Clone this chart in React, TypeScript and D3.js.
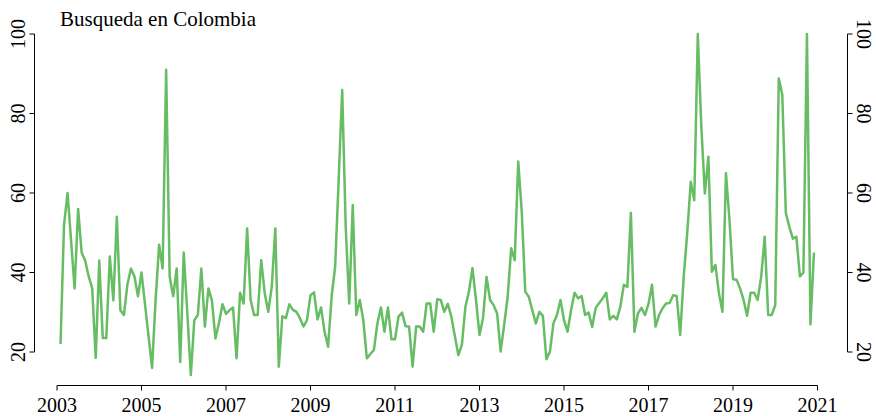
import React from "react";
import * as d3 from "d3";

const title = "Busqueda en Colombia";
const startYear = 2003;
const startMonth = 1; // February 2003 (0-based month)

const v2003_2005 = [
  22, 52, 60, 48, 36, 56, 45, 43, 39, 36, 18.5,
  43, 23.5, 23.5, 44, 33, 54, 30.5, 29.3, 37, 41, 39, 34,
  40, 32, 24, 16, 33, 47, 41, 91, 39, 34, 41, 17.5,
];
const v2006_2008 = [
  45, 30, 14.2, 28, 29.3, 41, 26.4, 36, 33, 23.4, 27.3, 32,
  29.6, 30.5, 31.2, 18.4, 34.9, 32.2, 51.1, 33, 29.3, 29.3, 43.1, 34.8,
  30.1, 36.4, 51.1, 16.3, 29, 28.5, 32, 30.6, 30.1, 28.5, 26.4, 28,
];
const v2009_2011 = [
  34.3, 35, 28.2, 31.2, 25.1, 21.3, 33.9, 41.5, 63.3, 85.9, 51.5, 32.2,
  57, 29.3, 33.1, 28, 18.4, 19.5, 20.5, 27.2, 31.2, 25.1, 31.2, 23.2,
  23.2, 28.9, 29.9, 26.5, 26.4, 16.3, 26.4, 26.4, 25.1, 32.2, 32.2, 25.1,
];
const v2012_2014 = [
  33.3, 33.1, 30.1, 32.1, 28.9, 24, 19.2, 21.8, 31.4, 35.2, 41.1, 33.1,
  24.3, 28.5, 38.9, 33.1, 31.8, 29.7, 20.1, 26.8, 33.9, 46.1, 43.1, 67.9,
  55.3, 35.2, 33.9, 30.5, 27.2, 30.1, 29.1, 18.2, 20.1, 27.2, 29.3, 33.1,
];
const v2015_2017 = [
  28, 25.1, 30.5, 34.9, 33.5, 34.1, 29.3, 29.9, 26.3, 31.1, 32.3, 33.5,
  34.9, 28.2, 29.1, 28.2, 31.4, 36.9, 36.4, 55, 25.1, 29.7, 31.1, 29.3,
  32.1, 36.9, 26.4, 29.3, 31, 32.2, 32.3, 34.3, 34.1, 24.3, 38.9, 49.9,
];
const v2018_2020 = [
  62.8, 58.2, 100, 76.7, 59.9, 69.1, 40.2, 41.9, 34.8, 30.1, 65, 53.2,
  38.3, 38.2, 36, 33.1, 29.1, 34.9, 34.9, 33.1, 38.9, 49, 29.3, 29.3,
  31.8, 88.8, 84.7, 55, 51.5, 48.5, 49, 39, 40, 100, 27, 45,
];

const yTicks = [20, 40, 60, 80, 100];
const xTicks = [2003, 2005, 2007, 2009, 2011, 2013, 2015, 2017, 2019, 2021];

const FONT = "Liberation Serif, Times New Roman, DejaVu Serif, serif";

export default function App() {
  const W = 876;
  const H = 416;
  const x = d3.scaleLinear().domain([2003, 2021]).range([57, 817.5]);
  const y = d3.scaleLinear().domain([20, 100]).range([352, 34]);

  const values = [
    ...v2003_2005,
    ...v2006_2008,
    ...v2009_2011,
    ...v2012_2014,
    ...v2015_2017,
    ...v2018_2020,
  ];
  const data = values.map((v, i) => ({ t: startYear + (startMonth + i) / 12, v }));
  const line = d3
    .line<{ t: number; v: number }>()
    .x((d) => x(d.t))
    .y((d) => y(d.v));

  const leftX = 34.5;
  const rightX = 847.5;
  const bottomY = 385.5;
  const fs = 20;
  const textStyle = { fontFamily: FONT };

  return (
    <svg
      width={W}
      height={H}
      style={{ position: "absolute", left: 0, top: 0, background: "#fff" }}
    >
      <text x={60} y={26} fontSize={21} fill="#000" style={textStyle}>
        {title}
      </text>

      <path
        d={line(data) || ""}
        fill="none"
        stroke="#66bd63"
        strokeWidth={2.5}
        strokeLinejoin="round"
      />

      {/* left axis */}
      <line x1={leftX} x2={leftX} y1={y(20)} y2={y(100)} stroke="#000" strokeWidth={1} />
      {yTicks.map((t) => (
        <g key={"l" + t}>
          <line x1={leftX - 5} x2={leftX} y1={y(t)} y2={y(t)} stroke="#000" strokeWidth={1} />
          <text
            transform={`translate(25, ${y(t)}) rotate(-90)`}
            textAnchor="middle"
            fontSize={fs}
            fill="#000"
            style={textStyle}
          >
            {t}
          </text>
        </g>
      ))}

      {/* right axis */}
      <line x1={rightX} x2={rightX} y1={y(20)} y2={y(100)} stroke="#000" strokeWidth={1} />
      {yTicks.map((t) => (
        <g key={"r" + t}>
          <line x1={rightX} x2={rightX + 5} y1={y(t)} y2={y(t)} stroke="#000" strokeWidth={1} />
          <text
            transform={`translate(857, ${y(t)}) rotate(90)`}
            textAnchor="middle"
            fontSize={fs}
            fill="#000"
            style={textStyle}
          >
            {t}
          </text>
        </g>
      ))}

      {/* bottom axis */}
      <line x1={x(2003)} x2={x(2021)} y1={bottomY} y2={bottomY} stroke="#000" strokeWidth={1} />
      {xTicks.map((t) => (
        <g key={"b" + t}>
          <line x1={x(t)} x2={x(t)} y1={bottomY} y2={bottomY + 5} stroke="#000" strokeWidth={1} />
          <text x={x(t)} y={411.5} textAnchor="middle" fontSize={fs} fill="#000" style={textStyle}>
            {t}
          </text>
        </g>
      ))}
    </svg>
  );
}
